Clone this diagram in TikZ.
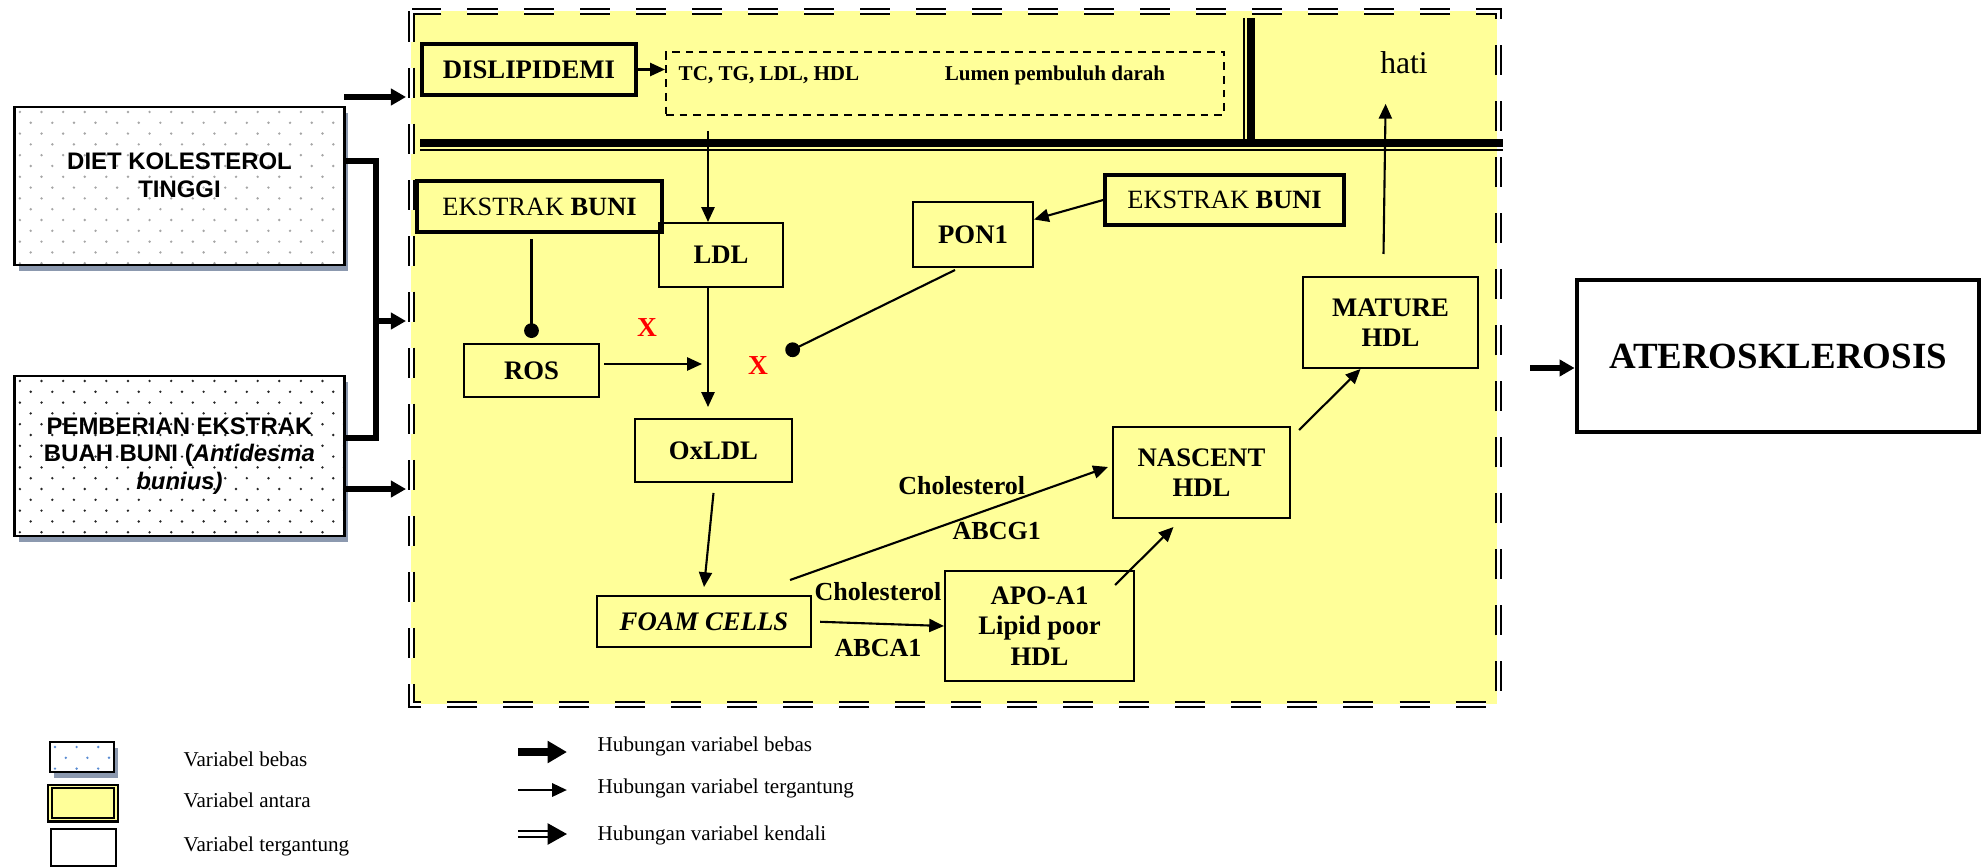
\documentclass[tikz,border=0pt]{standalone}
\usepackage{fontspec}
\setmainfont{Liberation Serif}
\setsansfont{Liberation Sans}
\usepackage{tikz}
\usetikzlibrary{arrows.meta, shadows, positioning, calc}
\definecolor{kuning}{RGB}{255,255,153}
\definecolor{bayang}{RGB}{140,153,175}
\definecolor{titikbiru}{RGB}{90,140,210}
\tikzset{
  bebas/.style={
    rectangle, draw, line width=0.8pt, fill=white,
    path picture={
      \foreach \r in {0,...,15} \foreach \c in {0,...,15}
        \fill[#1] ($(path picture bounding box.north west)+({0.05cm+mod(\r,2)*0.108cm+\c*0.216cm},{-0.05cm-\r*0.108cm})$) circle (0.38pt);
    },
    drop shadow={shadow xshift=0.04cm, shadow yshift=-0.06cm, fill=bayang, opacity=1},
    align=center, font=\sffamily\fontsize{6.8}{7.9}\selectfont\bfseries
  },
  bebas/.default=gray,
  antara/.style={
    rectangle, draw, line width=0.55pt,
    align=center, font=\fontsize{7.6}{8.7}\selectfont\bfseries
  },
  antarabold/.style={antara, line width=1pt},
  ekstrak/.style={antarabold, font=\fontsize{7.5}{9}\selectfont},
  tergantung/.style={
    rectangle, draw, line width=1.3pt,
    font=\fontsize{10.5}{12}\selectfont\bfseries
  },
  ket/.style={font=\fontsize{7.4}{9}\selectfont\bfseries, inner sep=1pt},
  ketkecil/.style={font=\fontsize{6}{7}\selectfont\bfseries, inner sep=1pt},
  legtext/.style={font=\fontsize{6}{7}\selectfont, anchor=west, inner sep=0pt},
  xmerah/.style={text=red, font=\fontsize{7.8}{9}\selectfont\bfseries, inner sep=0pt},
  panah/.style={line width=0.6pt, -{Triangle[length=4.2pt,width=3.7pt]}},
  panahtebal/.style={line width=1.7pt, -{Triangle[length=4.3pt,width=4.6pt]}},
  garistebal/.style={line width=1.7pt},
  hambat/.style={line width=0.6pt, -{Circle[length=4.2pt]}},
  bingkai/.style={line width=0.7pt, double=white, double distance=0.6pt, dash pattern=on 3mm off 2.6mm},
  panahblok/.style={line width=2.2pt, -{Triangle[length=5.5pt,width=6pt]}},
  ganda/.style={double, double distance=1.3pt, line width=0.6pt, -{Triangle[length=5.5pt,width=6pt]}},
}

\begin{document}
\begin{tikzpicture}[x=0.01cm, y=-0.01cm]
  \useasboundingbox (0,0) rectangle (1983,867);

  % kerangka variabel antara
  \fill[kuning] (411,11) rectangle (1497,704);
  \draw[bingkai] (411.5,11.5) rectangle (1498.5,704.5);
  \draw[line width=2.3pt] (420,143) -- (1503,143);
  \draw[line width=0.6pt] (420,150) -- (1503,150);
  \draw[line width=2.3pt] (1251,18) -- (1251,143);
  \draw[line width=0.6pt] (1244,18) -- (1244,143);

  % variabel bebas
  \node (diet) [bebas=gray!70, minimum width=3.29cm, minimum height=1.58cm, text depth=6.2pt] at (179.5,186) {DIET KOLESTEROL\\TINGGI};
  \node (pemb) [bebas=black!85, minimum width=3.29cm, minimum height=1.60cm] at (179.5,456) {PEMBERIAN EKSTRAK\\BUAH BUNI (\textit{Antidesma}\\\textit{bunius)}};

  % variabel antara
  \node (dislip)   [antarabold, minimum width=2.14cm, minimum height=0.51cm] at (529,69.5) {DISLIPIDEMI};
  \node (lumen)    [rectangle, draw, line width=0.5pt, dash pattern=on 2.2pt off 1.7pt,
                    minimum width=5.58cm, minimum height=0.63cm] at (945,83.5) {};
  \node (profil)   [ketkecil] at (769,75) {TC, TG, LDL, HDL};
  \node (lumentxt) [ketkecil] at (1055,75) {Lumen pembuluh darah};
  \node (hati)     [font=\fontsize{9}{10}\selectfont, inner sep=0pt] at (1404,63) {hati};

  \node (ekstrakA) [ekstrak, minimum width=2.45cm, minimum height=0.51cm] at (539.5,206.5) {EKSTRAK \textbf{BUNI}};
  \node (ldl)      [antara, minimum width=1.24cm, minimum height=0.64cm] at (721,255) {LDL};
  \node (pon)      [antara, minimum width=1.20cm, minimum height=0.65cm] at (973,234.5) {PON1};
  \node (ekstrakB) [ekstrak, minimum width=2.39cm, minimum height=0.50cm] at (1224.5,200) {EKSTRAK \textbf{BUNI}};
  \node (ros)      [antara, minimum width=1.35cm, minimum height=0.53cm] at (531.5,370.5) {ROS};
  \node (oxldl)    [antara, minimum width=1.57cm, minimum height=0.63cm] at (713.5,450.5) {OxLDL};
  \node (foam)     [antara, minimum width=2.14cm, minimum height=0.51cm] at (704,621.5) {\textit{FOAM CELLS}};
  \node (apo)      [antara, minimum width=1.89cm, minimum height=1.10cm] at (1039.5,626) {APO-A1\\Lipid poor\\HDL};
  \node (nascent)  [antara, minimum width=1.77cm, minimum height=0.91cm] at (1201.5,472.5) {NASCENT\\HDL};
  \node (mature)   [antara, minimum width=1.75cm, minimum height=0.91cm] at (1390.5,322.5) {MATURE\\HDL};
  \node (x1)       [xmerah] at (647,328) {X};
  \node (x2)       [xmerah] at (758,366) {X};

  % variabel tergantung
  \node (ater) [tergantung, minimum width=4.02cm, minimum height=1.52cm] at (1778,356) {ATEROSKLEROSIS};

  % hubungan variabel bebas
  \coordinate (kiri) at (406,0);
  \coordinate (dietatas) at (344,97);
  \coordinate (cabang) at (376,321);
  \coordinate (pembbawah) at ([yshift=-0.33cm]pemb.east);
  \draw [panahtebal] (dietatas) -- (dietatas -| kiri);
  \draw [garistebal] ([yshift=0.25cm]diet.east) -| (cabang) |- ([yshift=0.18cm]pemb.east);
  \draw [panahtebal] (cabang) -- (cabang -| kiri);
  \draw [panahtebal] (pembbawah) -- (pembbawah -| kiri);

  % hubungan variabel tergantung
  \coordinate (ldlmasuk) at (708,131);
  \coordinate (rosujung) at (702,364);
  \coordinate (ponujung) at (786,353);
  \draw [panah] (dislip.east) -- (dislip.east -| lumen.west);
  \draw [panah] (ldlmasuk) -- (ldlmasuk |- ldl.north);
  \draw [panah, shorten >=1.1mm] (ldlmasuk |- ldl.south) -- (ldlmasuk |- oxldl.north);
  \draw [hambat, shorten <=0.5mm, shorten >=0.5mm] (ros.north |- ekstrakA.south) -- (ros.north);
  \draw [panah, shorten <=0.04cm] (ros.east |- rosujung) -- (rosujung);
  \draw [hambat] ([xshift=-0.18cm,yshift=-0.02cm]pon.south) -- (ponujung);
  \draw [panah] (ekstrakB.west) -- ([yshift=0.15cm]pon.east);
  \draw [panah] ([yshift=-0.1cm]oxldl.south) -- ([yshift=0.08cm]foam.north);
  \draw [panah, shorten <=0.08cm] (foam.east) -- (apo.west)
    node[ket, midway, above=0.18cm] {Cholesterol}
    node[ket, midway, below=0.11cm] {ABCA1};
  \draw [panah] ([xshift=-0.22cm,yshift=0.15cm]foam.north east) -- ([xshift=-0.04cm,yshift=0.055cm]nascent.west)
    node[ket, pos=0.54, above=0.2cm] {Cholesterol}
    node[ket, pos=0.65, below=0.11cm] {ABCG1};
  \draw [panah] ([xshift=-0.2cm,yshift=-0.15cm]apo.north east) -- ([xshift=-0.28cm,yshift=-0.08cm]nascent.south);
  \draw [panah] ([xshift=0.08cm,yshift=-0.04cm]nascent.north east) -- ([xshift=-0.3cm]mature.south);
  \draw [panah, shorten >=0.29cm] ([xshift=-0.07cm,yshift=0.22cm]mature.north) -- ([xshift=-0.18cm]hati.south);
  \coordinate (aterin) at (1530,368);
  \draw [panahtebal] (aterin) -- (aterin -| ater.west);

  % keterangan
  \node (lgbebas) [bebas=titikbiru, line width=0.6pt, minimum width=0.64cm, minimum height=0.30cm] at (82,757) {};
  \node (lgantara) [rectangle, draw, fill=kuning, line width=0.6pt, double=kuning, double distance=0.5pt,
                    minimum width=0.66cm, minimum height=0.33cm] at (83,803) {};
  \node (lgtergantung) [rectangle, draw, line width=0.6pt, minimum width=0.65cm, minimum height=0.37cm] at (83.5,847.5) {};
  \node (tbebas)      [legtext] at (183,759) {Variabel bebas};
  \node (tantara)     [legtext] at (183,800) {Variabel antara};
  \node (ttergantung) [legtext] at (183,846) {Variabel tergantung};
  \node (hbebas)      [legtext] at (597,746) {Hubungan variabel bebas};
  \node (htergantung) [legtext] at (597,788) {Hubungan variabel tergantung};
  \node (hkendali)    [legtext] at (597,835) {Hubungan variabel kendali};
  \coordinate (lp1) at (518,752);
  \coordinate (lp2) at (518,790);
  \coordinate (lp3) at (518,834);
  \coordinate (lq) at ([xshift=-0.3cm]hbebas.west);
  \draw [panahblok] (lp1) -- (lp1 -| lq);
  \draw [panah, line width=0.8pt] (lp2) -- (lp2 -| lq);
  \draw [ganda] (lp3) -- (lp3 -| lq);
\end{tikzpicture}
\end{document}
